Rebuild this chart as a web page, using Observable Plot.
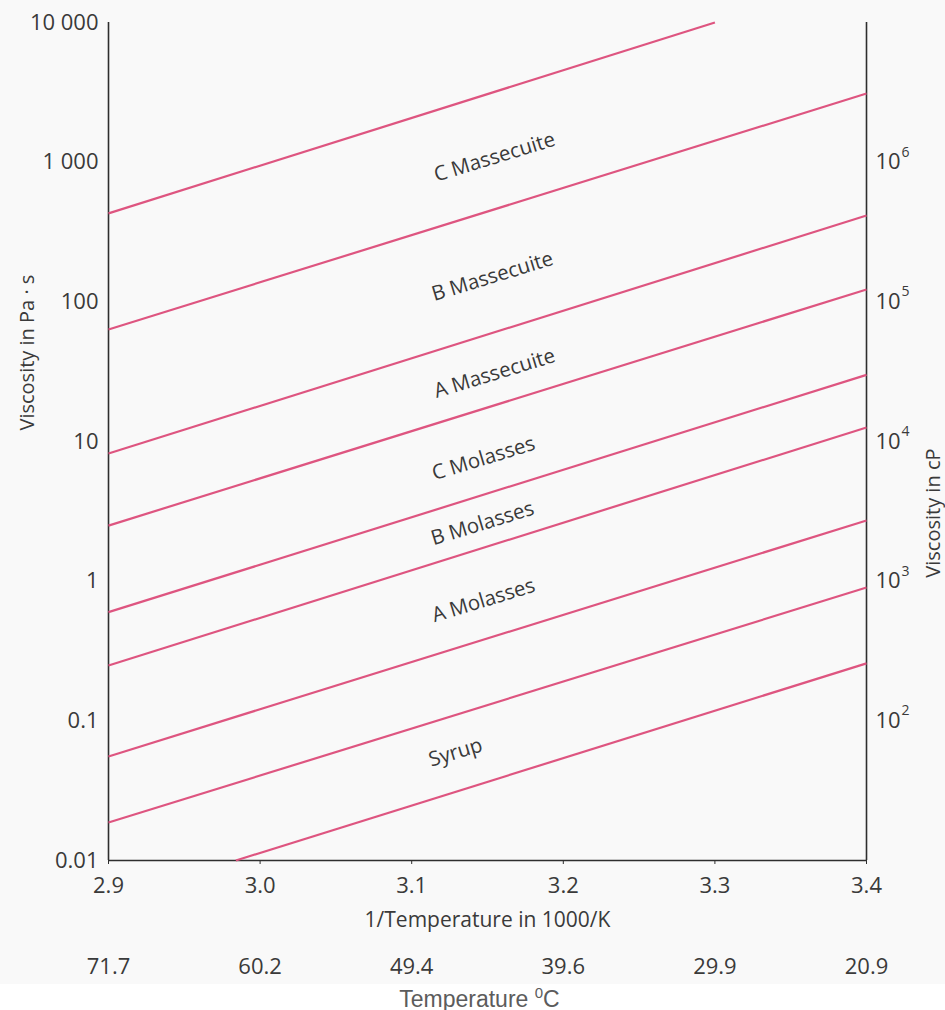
<!DOCTYPE html>
<html>
<head>
<meta charset="utf-8">
<script src="https://cdn.jsdelivr.net/npm/d3@7"></script>
<script src="https://cdn.jsdelivr.net/npm/@observablehq/plot@0.6"></script>
<style>
  html, body { margin: 0; padding: 0; background: #ffffff; }
  #chart svg { display: block; background: #f9f9f9; }
  #caption {
    width: 945px; height: 26px; line-height: 30px;
    text-align: center; box-sizing: border-box; padding-left: 14px;
    font-family: "Liberation Sans", Arial, sans-serif; font-size: 23px; color: #5c5c5c;
  }
  #caption sup { font-size: 15px; vertical-align: 9px; line-height: 0; }
</style>
</head>
<body>
<div id="chart"></div>
<div id="caption">Temperature <sup>0</sup>C</div>
<script>
// Axis ticks
const xTicks = [2.9, 3.0, 3.1, 3.2, 3.3, 3.4];
const xTickLabels = ["2.9", "3.0", "3.1", "3.2", "3.3", "3.4"];
const tempCLabels = ["71.7", "60.2", "49.4", "39.6", "29.9", "20.9"];
const yTicks = [0.01, 0.1, 1, 10, 100, 1000, 10000];
const yTickLabels = ["0.01", "0.1", "1", "10", "100", "1 000", "10 000"];
const cpTicks = [0.1, 1, 10, 100, 1000];          // in Pa·s
const cpExponents = ["2", "3", "4", "5", "6"];    // 10^n cP

// Viscosity boundary lines: start and end points (1000/K, Pa·s)
const lineX1 = [2.9, 2.9, 2.9, 2.9, 2.9, 2.9, 2.9, 2.9, 2.984];
const lineY1 = [430, 63.4, 8.2, 2.5, 0.6, 0.249, 0.0556, 0.0187, 0.01];
const lineX2 = [3.3, 3.4, 3.4, 3.4, 3.4, 3.4, 3.4, 3.4, 3.4];
const lineY2 = [10000, 3100, 415, 122.6, 30, 12.6, 2.72, 0.9, 0.258];

// Product band labels
const bandNames = ["C Massecuite", "B Massecuite", "A Massecuite", "C Molasses", "B Molasses", "A Molasses", "Syrup"];
const bandX = [3.1546, 3.1533, 3.1547, 3.1474, 3.1467, 3.1474, 3.1289];
const bandY = [1085, 152, 30.7, 7.56, 2.59, 0.727, 0.0593];

const lines = lineX1.map((x1, i) => ({x1, y1: lineY1[i], x2: lineX2[i], y2: lineY2[i]}));
const bands = bandNames.map((name, i) => ({name, x: bandX[i], y: bandY[i]}));
const xLabel = new Map(xTicks.map((d, i) => [d, xTickLabels[i]]));
const yLabel = new Map(yTicks.map((d, i) => [d, yTickLabels[i]]));
const temps = xTicks.map((x, i) => ({x, label: tempCLabels[i]}));
const cp = cpTicks.map((y, i) => ({y, exp: cpExponents[i]}));

const ink = "#3a3a3a";
const lineColor = "#de5580";

const chart = Plot.plot({
  width: 945,
  height: 984,
  marginLeft: 108,
  marginRight: 79,
  marginTop: 22,
  marginBottom: 124,
  style: {fontFamily: "'Open Sans', sans-serif", fontSize: "22px", color: ink, background: "#f9f9f9"},
  x: {domain: [2.9, 3.4]},
  y: {type: "log", domain: [0.01, 10000]},
  marks: [
    // frame: left, right and bottom
    Plot.ruleX([2.9, 3.4], {stroke: "#2e2e2e", strokeWidth: 1.6}),
    Plot.ruleY([0.01], {stroke: "#2e2e2e", strokeWidth: 1.6}),
    Plot.axisX({ticks: xTicks, tickFormat: d => xLabel.get(d), tickSize: 4, tickPadding: 13,
                stroke: "#2e2e2e", fill: ink, fontSize: 22, label: null}),
    Plot.axisY({ticks: yTicks, tickFormat: d => yLabel.get(d), tickSize: 0, tickPadding: 10,
                fill: ink, fontSize: 22, label: null}),
    // right-hand cP scale
    Plot.text(cp, {x: 3.4, y: "y", text: () => "10", textAnchor: "start", dx: 9, fontSize: 22, fill: ink}),
    Plot.text(cp, {x: 3.4, y: "y", text: "exp", textAnchor: "start", dx: 35, dy: -10, fontSize: 14, fill: ink}),
    // viscosity lines
    Plot.link(lines, {x1: "x1", y1: "y1", x2: "x2", y2: "y2", stroke: lineColor, strokeWidth: 2.2}),
    // band labels
    Plot.text(bands, {x: "x", y: "y", text: "name", rotate: -17, fontSize: 20.5, fill: ink}),
    // temperature row under the axis
    Plot.text(temps, {x: "x", text: "label", frameAnchor: "bottom", lineAnchor: "top", dy: 98, fontSize: 22, fill: ink}),
    // axis titles
    Plot.text(["1/Temperature in 1000/K"], {frameAnchor: "bottom", lineAnchor: "top", dy: 52, fontSize: 21, fill: ink}),
    Plot.text(["Viscosity in Pa · s"], {frameAnchor: "left", dx: -81, dy: -11, rotate: -90, fontSize: 20, fill: ink}),
    Plot.text(["Viscosity in cP"], {frameAnchor: "right", dx: 67, dy: 7, rotate: -90, fontSize: 20, fill: ink})
  ]
});
document.getElementById("chart").append(chart);
</script>
</body>
</html>
